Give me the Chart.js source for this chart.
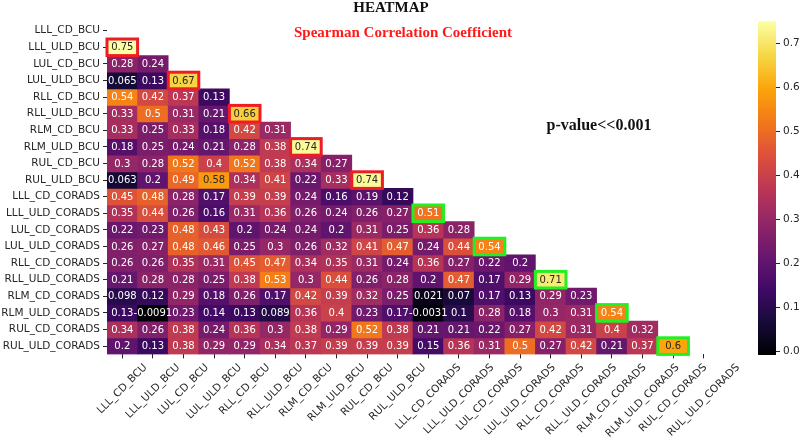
<!DOCTYPE html>
<html>
<head>
<meta charset="utf-8">
<script src="https://cdn.jsdelivr.net/npm/chart.js@4.4.1/dist/chart.umd.min.js"></script>
<style>
  html, body { margin: 0; padding: 0; background: #fff; }
  #wrap { position: relative; width: 800px; height: 442px; }
  #heat { position: absolute; left: 0; top: 0; }
  #cbar { position: absolute; left: 740px; top: 0; }
</style>
</head>
<body>
<div id="wrap">
  <canvas id="heat" width="800" height="442"></canvas>
  <canvas id="cbar" width="60" height="442"></canvas>
</div>
<script>
// labels for both axes (same order)
const names = [
    'LLL_CD_BCU', 'LLL_ULD_BCU', 'LUL_CD_BCU', 'LUL_ULD_BCU', 'RLL_CD_BCU',
    'RLL_ULD_BCU', 'RLM_CD_BCU', 'RLM_ULD_BCU', 'RUL_CD_BCU', 'RUL_ULD_BCU',
    'LLL_CD_CORADS', 'LLL_ULD_CORADS', 'LUL_CD_CORADS', 'LUL_ULD_CORADS', 'RLL_CD_CORADS',
    'RLL_ULD_CORADS', 'RLM_CD_CORADS', 'RLM_ULD_CORADS', 'RUL_CD_CORADS', 'RUL_ULD_CORADS'
];

// lower triangle of the spearman matrix, one row per label
const rho = [
    [],
    [0.75],
    [0.28, 0.24],
    [0.065, 0.13, 0.67],
    [0.54, 0.42, 0.37, 0.13],
    [0.33, 0.5, 0.31, 0.21, 0.66],
    [0.33, 0.25, 0.33, 0.18, 0.42, 0.31],
    [0.18, 0.25, 0.24, 0.21, 0.28, 0.38, 0.74],
    [0.3, 0.28, 0.52, 0.4, 0.52, 0.38, 0.34, 0.27],
    [0.063, 0.2, 0.49, 0.58, 0.34, 0.41, 0.22, 0.33, 0.74],
    [0.45, 0.48, 0.28, 0.17, 0.39, 0.39, 0.24, 0.16, 0.19, 0.12],
    [0.35, 0.44, 0.26, 0.16, 0.31, 0.36, 0.26, 0.24, 0.26, 0.27, 0.51],
    [0.22, 0.23, 0.48, 0.43, 0.2, 0.24, 0.24, 0.2, 0.31, 0.25, 0.36, 0.28],
    [0.26, 0.27, 0.48, 0.46, 0.25, 0.3, 0.26, 0.32, 0.41, 0.47, 0.24, 0.44, 0.54],
    [0.26, 0.26, 0.35, 0.31, 0.45, 0.47, 0.34, 0.35, 0.31, 0.24, 0.36, 0.27, 0.22, 0.2],
    [0.21, 0.28, 0.28, 0.25, 0.38, 0.53, 0.3, 0.44, 0.26, 0.28, 0.2, 0.47, 0.17, 0.29, 0.71],
    [0.098, 0.12, 0.29, 0.18, 0.26, 0.17, 0.42, 0.39, 0.32, 0.25, 0.021, 0.07, 0.17, 0.13, 0.29, 0.23],
    [0.13, -0.0091, 0.23, 0.14, 0.13, 0.089, 0.36, 0.4, 0.23, 0.17, -0.0031, 0.1, 0.28, 0.18, 0.3, 0.31, 0.54],
    [0.34, 0.26, 0.38, 0.24, 0.36, 0.3, 0.38, 0.29, 0.52, 0.38, 0.21, 0.21, 0.22, 0.27, 0.42, 0.31, 0.4, 0.32],
    [0.2, 0.13, 0.38, 0.29, 0.29, 0.34, 0.37, 0.39, 0.39, 0.39, 0.15, 0.36, 0.31, 0.5, 0.27, 0.42, 0.21, 0.37, 0.6]
];

// highlighted cells [row, col]
const redPairs = [[1, 0], [3, 2], [5, 4], [7, 6], [9, 8]];
const greenPairs = [[11, 10], [13, 12], [15, 14], [17, 16], [19, 18]];

const cbarTicks = [0, 0.1, 0.2, 0.3, 0.4, 0.5, 0.6, 0.7];

const allVals = rho.flat();
const vmin = Math.min(...allVals);
const vmax = Math.max(...allVals);

// inferno colormap
const inferno = ['#000004', '#160b39', '#420a68', '#6a176e', '#932667', '#bc3754',
    '#dd513a', '#f37819', '#fca50a', '#f6d746', '#fcffa4'];
const stops = inferno.map(h => [1, 3, 5].map(i => parseInt(h.substr(i, 2), 16)));

function cmap(v) {
    let t = (v - vmin) / (vmax - vmin);
    t = Math.max(0, Math.min(1, t)) * (stops.length - 1);
    const i = Math.min(Math.floor(t), stops.length - 2);
    const f = t - i;
    return stops[i].map((a, k) => Math.round(a + (stops[i + 1][k] - a) * f));
}
const rgb = c => `rgb(${c[0]},${c[1]},${c[2]})`;

function luminance(c) {
    const lin = c.map(x => {
        x /= 255;
        return x <= 0.03928 ? x / 12.92 : Math.pow((x + 0.055) / 1.055, 2.4);
    });
    return 0.2126 * lin[0] + 0.7152 * lin[1] + 0.0722 * lin[2];
}

const fmt = v => String(Number(v.toPrecision(2)));

const datasets = rho.map((row, r) => ({
    label: names[r],
    data: names.map((_, c) => c < r ? [r - 0.5, r + 0.5] : null),
    backgroundColor: names.map((_, c) => c < r ? rgb(cmap(row[c])) : 'rgba(0,0,0,0)')
}));

const tickFont = { family: 'DejaVu Sans', size: 10.5 };
const ink = '#262626';

const cellText = {
    id: 'cellText',
    afterDatasetsDraw(chart) {
        const ctx = chart.ctx;
        ctx.save();
        ctx.font = '10px "DejaVu Sans"';
        ctx.textAlign = 'center';
        ctx.textBaseline = 'middle';
        rho.forEach((row, r) => {
            const meta = chart.getDatasetMeta(r);
            row.forEach((v, c) => {
                const el = meta.data[c];
                const cy = (el.y + el.base) / 2;
                ctx.fillStyle = luminance(cmap(v)) > 0.408 ? ink : '#ffffff';
                ctx.fillText(fmt(v), el.x, cy + 0.5);
            });
        });
        // boxes
        const box = (pairs, color) => {
            ctx.strokeStyle = color;
            ctx.lineWidth = 3;
            pairs.forEach(([r, c]) => {
                const el = chart.getDatasetMeta(r).data[c];
                const top = Math.min(el.y, el.base);
                const h = Math.abs(el.y - el.base);
                ctx.strokeRect(el.x - el.width / 2, top, el.width, h);
            });
        };
        box(redPairs, '#ee1c25');
        box(greenPairs, '#22f022');
        ctx.restore();
    },
    afterDraw(chart) {
        const ctx = chart.ctx;
        const xs = chart.scales.x;
        ctx.save();
        ctx.font = '10.5px "DejaVu Sans"';
        ctx.fillStyle = ink;
        ctx.textAlign = 'center';
        ctx.textBaseline = 'middle';
        names.forEach((n, i) => {
            const px = xs.getPixelForValue(i);
            const w = ctx.measureText(n).width;
            const side = (w + 11) * Math.SQRT1_2;
            ctx.save();
            ctx.translate(px, xs.top + 7.5 + side / 2);
            ctx.rotate(-Math.PI / 4);
            ctx.fillText(n, 0, 0);
            ctx.restore();
        });
        // titles
        ctx.textAlign = 'center';
        ctx.fillStyle = '#111111';
        ctx.font = 'bold 15px "Liberation Serif"';
        ctx.fillText('HEATMAP', 391, 8);
        ctx.fillStyle = '#ff1a1a';
        ctx.fillText('Spearman Correlation Coefficient', 403, 33);
        ctx.fillStyle = '#111111';
        ctx.font = 'bold 16px "Liberation Serif"';
        ctx.fillText('p-value<<0.001', 599, 126);
        ctx.restore();
    }
};

new Chart(document.getElementById('heat').getContext('2d'), {
    type: 'bar',
    data: { labels: names, datasets: datasets },
    options: {
        responsive: false,
        animation: false,
        layout: { padding: { top: 22.4, right: 81, left: 0, bottom: 0 } },
        datasets: { bar: { grouped: false, barPercentage: 1, categoryPercentage: 1, borderWidth: 0 } },
        plugins: { legend: { display: false }, tooltip: { enabled: false } },
        scales: {
            x: {
                offset: true,
                grid: { offset: false, drawOnChartArea: false, tickLength: 4, tickColor: ink },
                border: { display: false },
                ticks: { display: false, autoSkip: false },
                afterFit(s) { s.height = 87.6; }
            },
            y: {
                type: 'linear',
                reverse: true,
                min: -0.5,
                max: 19.5,
                afterBuildTicks(s) { s.ticks = names.map((_, i) => ({ value: i })); },
                ticks: {
                    autoSkip: false, padding: 3, color: ink, font: tickFont,
                    callback: v => names[Math.round(v)]
                },
                grid: { drawOnChartArea: false, tickLength: 4, tickColor: ink },
                border: { display: false },
                afterFit(s) { s.width = 107; }
            }
        }
    },
    plugins: [cellText]
});

// colour bar
const barFill = {
    id: 'barFill',
    beforeDatasetsDraw(chart) {
        const ctx = chart.ctx;
        const ys = chart.scales.y;
        const a = chart.chartArea;
        for (let py = Math.floor(a.top); py < Math.ceil(a.bottom); py++) {
            ctx.fillStyle = rgb(cmap(ys.getValueForPixel(py + 0.5)));
            ctx.fillRect(a.left, py, a.right - a.left, 1);
        }
    }
};

new Chart(document.getElementById('cbar').getContext('2d'), {
    type: 'scatter',
    data: { datasets: [] },
    options: {
        responsive: false,
        animation: false,
        layout: { padding: { left: 18, top: 21.7, bottom: 87, right: 0 } },
        plugins: { legend: { display: false }, tooltip: { enabled: false } },
        scales: {
            x: { display: false },
            y: {
                position: 'right',
                min: vmin,
                max: vmax,
                afterBuildTicks(s) { s.ticks = cbarTicks.map(v => ({ value: v })); },
                ticks: { padding: 3, color: ink, font: tickFont, callback: v => v.toFixed(1) },
                grid: { drawOnChartArea: false, tickLength: 4, tickColor: ink },
                border: { display: false },
                afterFit(s) { s.width = 24; }
            }
        }
    },
    plugins: [barFill]
});
</script>
</body>
</html>
